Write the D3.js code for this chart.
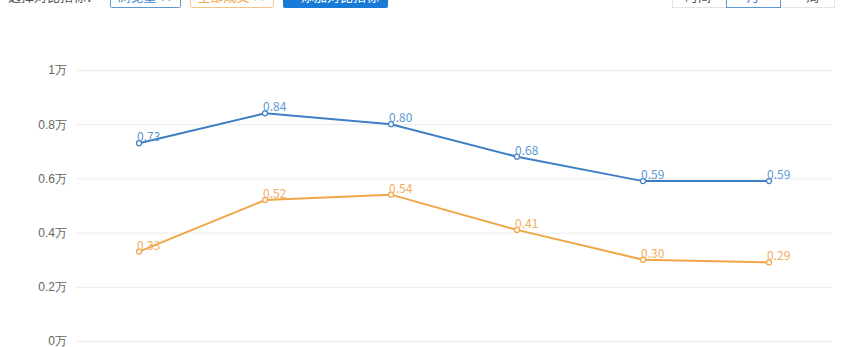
<!DOCTYPE html>
<meta charset="utf-8">
<style>
body { margin: 0; background: #fff; font-family: "Microsoft YaHei", "Noto Sans CJK SC", "Noto Sans", sans-serif; overflow: hidden; }
.grid line { stroke: #ececec; stroke-width: 1px; }
.grid .domain { display: none; }
.ylab text { fill: #666; font-size: 12px; }
.ylab .domain, .ylab line { display: none; }
.val { font-size: 12px; }
</style>
<svg id="chart" width="852" height="347"></svg>
<script src="https://cdn.jsdelivr.net/npm/d3@7"></script>
<script>
// the category labels sit below the photographed area in the reference
var categories = ["1月", "2月", "3月", "4月", "5月", "6月"];
var blueVals = [0.73, 0.84, 0.80, 0.68, 0.59, 0.59];
var orangeVals = [0.33, 0.52, 0.54, 0.41, 0.30, 0.29];
var yTicks = [0, 0.2, 0.4, 0.6, 0.8, 1];

var series = [
  {name: "浏览量", values: blueVals, line: "#3d7fc4", label: "#5e98d2"},
  {name: "全部成交", values: orangeVals, line: "#f0a545", label: "#f2ae5c"}
];

var svg = d3.select("#chart");
var margin = {top: 70, right: 20, bottom: 6, left: 76},
    width = 852 - margin.left - margin.right,
    height = 347 - margin.top - margin.bottom;

var g = svg.append("g").attr("transform", "translate(" + margin.left + "," + margin.top + ")");

var x = d3.scaleBand().domain(categories).range([0, width]);
var y = d3.scaleLinear().domain([0, 1]).range([height, 0]);

g.append("g").attr("class", "grid")
  .call(d3.axisLeft(y).tickValues(yTicks).tickSize(-width).tickFormat(""));

g.append("g").attr("class", "ylab")
  .attr("transform", "translate(-9,0)")
  .call(d3.axisLeft(y).tickValues(yTicks).tickSize(0).tickPadding(0)
    .tickFormat(function(d) { return d3.format("~g")(d) + "万"; }));

var line = d3.line()
  .x(function(d, i) { return x(categories[i]) + x.bandwidth() / 2; })
  .y(function(d) { return y(d); });

series.forEach(function(s) {
  var sg = g.append("g");
  sg.append("path").datum(s.values)
    .attr("d", line)
    .attr("fill", "none")
    .attr("stroke", s.line)
    .attr("stroke-width", 2);
  sg.selectAll("circle").data(s.values).enter().append("circle")
    .attr("cx", function(d, i) { return x(categories[i]) + x.bandwidth() / 2; })
    .attr("cy", function(d) { return y(d); })
    .attr("r", 2.5)
    .attr("fill", "#fff")
    .attr("stroke", s.line)
    .attr("stroke-width", 1.2);
  sg.selectAll("text").data(s.values).enter().append("text")
    .attr("class", "val")
    .attr("x", function(d, i) { return x(categories[i]) + x.bandwidth() / 2 - 2; })
    .attr("y", function(d) { return y(d) - 2; })
    .attr("fill", s.label)
    .text(function(d) { return d3.format(".2f")(d); });
});

// top toolbar, mostly cut off at the top edge
var bar = svg.append("g");
var ty = 1;
bar.append("text").attr("x", 8).attr("y", ty).attr("font-size", 13).attr("fill", "#555").text("选择对比指标：");
var buttons = [
  {x: 110, w: 70, text: "浏览量 ×", stroke: "#5e98d2", fill: "#fff", color: "#3d7fc4"},
  {x: 190, w: 83, text: "全部成交 ×", stroke: "#f2c58a", fill: "#fff", color: "#f0a545"},
  {x: 283, w: 104, text: "+ 添加对比指标", stroke: "#1a7bd6", fill: "#1a7bd6", color: "#fff"}
];
buttons.forEach(function(b) {
  bar.append("rect").attr("x", b.x + 0.5).attr("y", -20.5).attr("width", b.w).attr("height", 28)
    .attr("fill", b.fill).attr("stroke", b.stroke).attr("rx", 1);
  bar.append("text").attr("x", b.x + b.w / 2).attr("y", ty).attr("text-anchor", "middle")
    .attr("font-size", 13).attr("fill", b.color).text(b.text);
});
bar.append("rect").attr("x", 672.5).attr("y", -20.5).attr("width", 162).attr("height", 28)
  .attr("fill", "none").attr("stroke", "#e4e4e4");
bar.append("text").attr("x", 698).attr("y", ty).attr("text-anchor", "middle").attr("font-size", 13).attr("fill", "#555").text("时间");
bar.append("rect").attr("x", 726.5).attr("y", -20.5).attr("width", 54).attr("height", 28)
  .attr("fill", "#fff").attr("stroke", "#5e98d2");
bar.append("text").attr("x", 753).attr("y", ty).attr("text-anchor", "middle").attr("font-size", 13).attr("fill", "#3d7fc4").text("月");
bar.append("text").attr("x", 813).attr("y", ty).attr("text-anchor", "middle").attr("font-size", 13).attr("fill", "#555").text("周");
</script>
